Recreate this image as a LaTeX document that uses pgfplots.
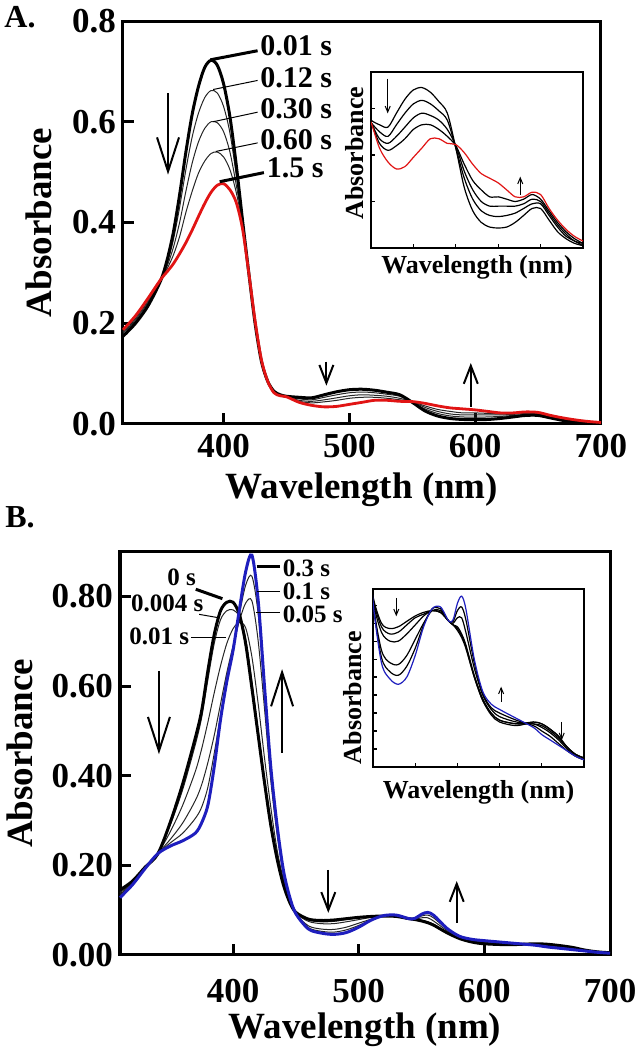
\documentclass[border=0pt]{standalone}
\usepackage{fontspec}
\setmainfont{Liberation Serif}
\usepackage{pgfplots}
\usepackage{pgfplotstable}
\pgfplotsset{compat=1.18}
\usetikzlibrary{arrows.meta}

\definecolor{myred}{RGB}{225,20,20}
\definecolor{myblue}{RGB}{30,30,190}

\newcommand{\tickfont}{\fontsize{17.5}{18}\selectfont\bfseries}
\newcommand{\labfont}{\fontsize{18.5}{20}\selectfont\bfseries}
\newcommand{\insetfont}{\fontsize{13}{14}\selectfont\bfseries}
\newcommand{\annAfont}{\fontsize{15}{16}\selectfont\bfseries}
\newcommand{\annBfont}{\fontsize{12.5}{13}\selectfont\bfseries}

\pgfplotstableread{
wl a001 a012 a030 a060 a15
320 0.174 0.177 0.180 0.183 0.187
330 0.200 0.204 0.207 0.210 0.215
340 0.235 0.239 0.242 0.245 0.250
350 0.285 0.286 0.286 0.287 0.287
355 0.325 0.318 0.313 0.308 0.302
360 0.380 0.365 0.350 0.335 0.318
365 0.455 0.430 0.400 0.372 0.338
370 0.540 0.505 0.462 0.420 0.360
375 0.615 0.570 0.518 0.462 0.385
380 0.670 0.617 0.560 0.498 0.412
385 0.708 0.648 0.587 0.522 0.438
390 0.722 0.662 0.600 0.537 0.460
395 0.712 0.657 0.598 0.540 0.474
400 0.675 0.630 0.580 0.530 0.477
405 0.610 0.578 0.540 0.505 0.465
410 0.515 0.495 0.475 0.460 0.440
415 0.405 0.402 0.400 0.395 0.388
420 0.300 0.300 0.300 0.300 0.300
425 0.200 0.200 0.200 0.202 0.205
430 0.125 0.126 0.126 0.127 0.128
435 0.085 0.085 0.085 0.085 0.085
440 0.065 0.064 0.063 0.063 0.062
445 0.058 0.057 0.057 0.056 0.056
450 0.055 0.054 0.054 0.054 0.054
460 0.053 0.050 0.047 0.045 0.043
470 0.052 0.048 0.045 0.042 0.037
480 0.058 0.053 0.048 0.044 0.034
490 0.064 0.058 0.052 0.047 0.035
500 0.068 0.062 0.056 0.051 0.039
510 0.069 0.0635 0.058 0.053 0.043
520 0.067 0.062 0.057 0.053 0.047
530 0.063 0.059 0.055 0.051 0.047
540 0.058 0.055 0.051 0.048 0.045
550 0.043 0.043 0.044 0.044 0.0445
560 0.026 0.030 0.033 0.036 0.041
570 0.016 0.021 0.025 0.029 0.036
580 0.011 0.016 0.020 0.025 0.032
590 0.009 0.014 0.018 0.022 0.030
600 0.0086 0.0135 0.018 0.022 0.028
610 0.009 0.014 0.018 0.021 0.025
620 0.011 0.015 0.018 0.020 0.022
630 0.014 0.017 0.019 0.021 0.022
640 0.017 0.019 0.021 0.023 0.024
650 0.017 0.019 0.020 0.021 0.023
660 0.012 0.014 0.015 0.016 0.017
670 0.007 0.009 0.010 0.011 0.012
680 0.004 0.005 0.006 0.007 0.008
690 0.002 0.003 0.003 0.004 0.005
700 0.001 0.001 0.002 0.002 0.003
}\tabA

\pgfplotstableread{
wl b0 b0004 b001 b005 b01 b03
310 0.145 0.142 0.139 0.135 0.131 0.128
320 0.165 0.163 0.161 0.160 0.158 0.157
330 0.196 0.195 0.194 0.194 0.193 0.193
340 0.225 0.226 0.226 0.226 0.226 0.226
350 0.296 0.290 0.275 0.258 0.250 0.243
360 0.383 0.370 0.335 0.295 0.272 0.255
370 0.485 0.470 0.410 0.345 0.305 0.272
375 0.545 0.530 0.460 0.380 0.330 0.295
380 0.635 0.615 0.520 0.430 0.375 0.335
385 0.715 0.695 0.585 0.490 0.450 0.420
390 0.768 0.748 0.645 0.560 0.535 0.525
395 0.787 0.768 0.695 0.630 0.620 0.610
400 0.787 0.770 0.728 0.690 0.685 0.680
405 0.760 0.755 0.742 0.745 0.760 0.770
410 0.695 0.705 0.730 0.785 0.825 0.855
415 0.595 0.610 0.665 0.790 0.845 0.892
420 0.490 0.500 0.560 0.700 0.760 0.790
425 0.385 0.395 0.440 0.550 0.585 0.600
430 0.290 0.300 0.330 0.390 0.410 0.420
435 0.215 0.220 0.235 0.270 0.280 0.290
440 0.157 0.162 0.170 0.180 0.185 0.190
445 0.118 0.120 0.125 0.128 0.130 0.130
450 0.095 0.094 0.093 0.092 0.092 0.092
460 0.080 0.078 0.075 0.065 0.061 0.058
470 0.077 0.074 0.070 0.058 0.053 0.049
480 0.078 0.075 0.070 0.057 0.051 0.046
490 0.081 0.079 0.074 0.062 0.056 0.050
500 0.084 0.083 0.079 0.071 0.066 0.062
510 0.086 0.085 0.084 0.080 0.079 0.078
520 0.087 0.087 0.087 0.087 0.088 0.088
530 0.086 0.086 0.086 0.087 0.088 0.089
540 0.081 0.081 0.081 0.081 0.081 0.081
545 0.079 0.079 0.079 0.080 0.081 0.082
550 0.076 0.077 0.078 0.083 0.087 0.091
555 0.072 0.073 0.074 0.083 0.089 0.095
560 0.066 0.067 0.068 0.075 0.082 0.088
570 0.050 0.050 0.051 0.055 0.058 0.060
580 0.037 0.037 0.038 0.040 0.041 0.042
590 0.029 0.030 0.030 0.032 0.033 0.035
600 0.025 0.026 0.026 0.028 0.030 0.032
620 0.023 0.024 0.024 0.025 0.026 0.027
640 0.025 0.025 0.024 0.024 0.023 0.022
650 0.024 0.024 0.023 0.022 0.020 0.018
660 0.021 0.021 0.020 0.019 0.017 0.015
670 0.017 0.017 0.016 0.015 0.013 0.012
680 0.011 0.011 0.011 0.010 0.009 0.009
690 0.007 0.007 0.007 0.006 0.006 0.006
700 0.005 0.005 0.005 0.004 0.004 0.004
}\tabB

\pgfplotsset{
  mainax/.style={scale only axis, axis line style={line width=1.5pt},
    tick style={line width=1.5pt, black}, major tick length=5.5pt,
    tick align=inside, xtick pos=bottom, ytick pos=left,
    tick label style={font=\tickfont},
    /pgf/number format/assume math mode=true,
    label style={font=\labfont}, clip=false, scaled ticks=false},
  insetax/.style={scale only axis, axis line style={line width=0.8pt},
    tick style={line width=0.6pt, black}, major tick length=2.2pt,
    tick align=inside, xtick pos=bottom, ytick pos=left,
    xticklabels={}, yticklabels={}, scaled ticks=false,
    label style={font=\insetfont}, axis background/.style={fill=white},
    xmin=450, xmax=700, xtick={500,550,600,650}},
  thick line/.style={black, line width=1.5pt, smooth},
  thin line/.style={black!85, line width=0.5pt, smooth},
  in line/.style={black, line width=0.6pt, smooth},
}

\tikzset{
  bigarrow/.style={line width=1pt, -{Straight Barb[length=17pt,width=11pt]}},
  midarrow/.style={line width=1pt, -{Straight Barb[length=9pt,width=7pt]}},
  tinyarrow/.style={line width=0.5pt, -{Straight Barb[length=3pt,width=2.5pt]}},
}

\begin{document}
\begin{tikzpicture}
\path[use as bounding box] (0,0) rectangle (318.5pt,525pt);
\node[font=\fontsize{16}{17}\selectfont\bfseries] at (10pt,516.5pt) {A.};
\node[font=\fontsize{16}{17}\selectfont\bfseries] at (10pt,266.5pt) {B.};

% ---------------- Panel A main ----------------
\begin{axis}[mainax,
  at={(61.5pt,313pt)}, anchor=south west, width=239pt, height=201.5pt,
  xmin=320, xmax=700, ymin=0, ymax=0.8,
  xtick={400,500,600,700}, ytick={0,0.2,0.4,0.6,0.8},
  yticklabel style={/pgf/number format/.cd, fixed, fixed zerofill, precision=1},
  xticklabel style={yshift=-1.5pt},
  xlabel={Wavelength (nm)}, ylabel={Absorbance},
  xlabel style={at={(axis description cs:0.5,-0.163)}, anchor=center},
  ylabel style={at={(axis description cs:-0.1757,0.5)}, anchor=center},
]
\addplot[thin line] table[x=wl,y=a012] {\tabA};
\addplot[thin line] table[x=wl,y=a030] {\tabA};
\addplot[thin line] table[x=wl,y=a060] {\tabA};
\addplot[thick line] table[x=wl,y=a001] {\tabA};
\addplot[myred, line width=1.4pt, smooth] table[x=wl,y=a15] {\tabA};
% leaders and labels
\draw[line width=1.5pt] (axis cs:389.5,0.723) -- (axis cs:427,0.741);
\draw[line width=0.5pt] (axis cs:391.6,0.664) -- (axis cs:427,0.682);
\draw[line width=0.5pt] (axis cs:391.6,0.600) -- (axis cs:427,0.619);
\draw[line width=0.5pt] (axis cs:393.7,0.541) -- (axis cs:427,0.558);
\draw[line width=1.5pt] (axis cs:396.9,0.481) -- (axis cs:432,0.499);
\node[anchor=west, inner sep=0pt, font=\annAfont] at (axis cs:428.8,0.751) {0.01 s};
\node[anchor=west, inner sep=0pt, font=\annAfont] at (axis cs:428.8,0.687) {0.12 s};
\node[anchor=west, inner sep=0pt, font=\annAfont] at (axis cs:428.8,0.625) {0.30 s};
\node[anchor=west, inner sep=0pt, font=\annAfont] at (axis cs:428.8,0.564) {0.60 s};
\node[anchor=west, inner sep=0pt, font=\annAfont] at (axis cs:434,0.508) {1.5 s};
% arrows
\draw[bigarrow] (axis cs:355.8,0.657) -- (axis cs:355.8,0.495);
\draw[midarrow] (axis cs:481.7,0.124) -- (axis cs:481.7,0.076);
\draw[midarrow] (axis cs:596.5,0.034) -- (axis cs:596.5,0.121);
\end{axis}

% ---------------- Panel A inset ----------------
\begin{axis}[insetax,
  at={(185.5pt,401pt)}, anchor=south west, width=106pt, height=88pt,
  ymin=0, ymax=0.0757, ytick={0.02,0.04,0.06},
  xlabel={Wavelength (nm)}, ylabel={Absorbance},
  xlabel style={at={(axis description cs:0.5,-0.108)}, anchor=center},
  ylabel style={at={(axis description cs:-0.078,0.54)}, anchor=center},
  restrict x to domain=440:700,
]
\addplot[in line] table[x=wl,y=a012] {\tabA};
\addplot[in line] table[x=wl,y=a030] {\tabA};
\addplot[in line] table[x=wl,y=a060] {\tabA};
\addplot[in line] table[x=wl,y=a001] {\tabA};
\addplot[myred, line width=0.6pt, smooth] table[x=wl,y=a15] {\tabA};
\draw[tinyarrow] (axis cs:469.7,0.0729) -- (axis cs:469.7,0.0579);
\draw[tinyarrow] (axis cs:626,0.0229) -- (axis cs:626,0.0307);
\end{axis}

% ---------------- Panel B main ----------------
\begin{axis}[mainax,
  at={(60pt,47.5pt)}, anchor=south west, width=245pt, height=201.7pt,
  xmin=310, xmax=700, ymin=0, ymax=0.9,
  xtick={400,500,600,700}, ytick={0,0.2,0.4,0.6,0.8},
  yticklabel style={/pgf/number format/.cd, fixed, fixed zerofill, precision=2},
  xticklabel style={yshift=-8.5pt},
  xlabel={Wavelength (nm)}, ylabel={Absorbance},
  xlabel style={at={(axis description cs:0.5,-0.186)}, anchor=center},
  ylabel style={at={(axis description cs:-0.204,0.5)}, anchor=center},
]
\addplot[thin line] table[x=wl,y=b0004] {\tabB};
\addplot[thin line] table[x=wl,y=b001] {\tabB};
\addplot[thin line] table[x=wl,y=b005] {\tabB};
\addplot[thin line] table[x=wl,y=b01] {\tabB};
\addplot[thick line] table[x=wl,y=b0] {\tabB};
\addplot[myblue, line width=1.5pt, smooth] table[x=wl,y=b03] {\tabB};
% leaders and labels
\draw[line width=1.5pt] (axis cs:370.3,0.816) -- (axis cs:391.5,0.795);
\draw[line width=0.5pt] (axis cs:373,0.760) -- (axis cs:389.4,0.752);
\draw[line width=0.5pt] (axis cs:366.9,0.709) -- (axis cs:394.7,0.709);
\draw[line width=1.5pt] (axis cs:418.7,0.867) -- (axis cs:437,0.867);
\draw[line width=0.5pt] (axis cs:418.7,0.811) -- (axis cs:437,0.811);
\draw[line width=0.5pt] (axis cs:418.5,0.764) -- (axis cs:437,0.764);
\node[inner sep=0pt, font=\annBfont] at (axis cs:359,0.843) {0 s};
\node[inner sep=0pt, font=\annBfont] at (axis cs:347.6,0.784) {0.004 s};
\node[inner sep=0pt, font=\annBfont] at (axis cs:341.2,0.711) {0.01 s};
\node[anchor=west, inner sep=0pt, font=\annBfont] at (axis cs:439.4,0.862) {0.3 s};
\node[anchor=west, inner sep=0pt, font=\annBfont] at (axis cs:439.4,0.811) {0.1 s};
\node[anchor=west, inner sep=0pt, font=\annBfont] at (axis cs:439.4,0.760) {0.05 s};
% arrows
\draw[bigarrow] (axis cs:341,0.634) -- (axis cs:341,0.448);
\draw[bigarrow] (axis cs:439,0.451) -- (axis cs:439,0.638);
\draw[midarrow] (axis cs:475.8,0.190) -- (axis cs:475.8,0.094);
\draw[midarrow] (axis cs:578,0.072) -- (axis cs:578,0.165);
\end{axis}

% ---------------- Panel B inset ----------------
\begin{axis}[insetax,
  at={(186.5pt,141.5pt)}, anchor=south west, width=105.5pt, height=89pt,
  ymin=0, ymax=0.099, ytick={0.01,0.02,0.03,0.04,0.05,0.06,0.07,0.08,0.09},
  xlabel={Wavelength (nm)}, ylabel={Absorbance},
  xlabel style={at={(axis description cs:0.5,-0.14)}, anchor=center},
  ylabel style={at={(axis description cs:-0.095,0.39)}, anchor=center},
  restrict x to domain=440:700,
]
\addplot[in line] table[x=wl,y=b0004] {\tabB};
\addplot[in line] table[x=wl,y=b001] {\tabB};
\addplot[in line] table[x=wl,y=b005] {\tabB};
\addplot[in line] table[x=wl,y=b01] {\tabB};
\addplot[in line] table[x=wl,y=b0] {\tabB};
\addplot[myblue, line width=0.6pt, smooth] table[x=wl,y=b03] {\tabB};
\draw[tinyarrow] (axis cs:477.6,0.094) -- (axis cs:477.6,0.0838);
\draw[tinyarrow] (axis cs:601.8,0.0363) -- (axis cs:601.8,0.0447);
\draw[tinyarrow] (axis cs:673.6,0.0251) -- (axis cs:673.6,0.0149);
\end{axis}
\end{tikzpicture}
\end{document}
